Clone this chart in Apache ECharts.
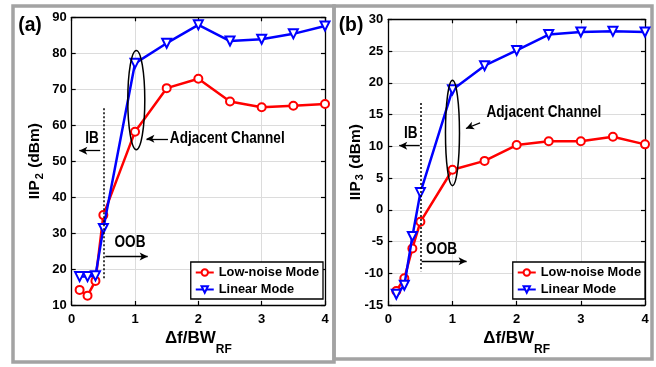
<!DOCTYPE html>
<html><head><meta charset="utf-8">
<script src="https://cdn.jsdelivr.net/npm/echarts@6/dist/echarts.min.js"></script>
<style>html,body{margin:0;padding:0;background:#fff}#c{width:656px;height:367px}</style>
</head><body><div id="c"></div>
<script>
// ---- data ----
const offsets = [0.125, 0.25, 0.375, 0.5, 1, 1.5, 2, 2.5, 3, 3.5, 4];
const iip2LowNoise = [14.2, 12.6, 16.7, 35.0, 58.2, 70.3, 72.9, 66.6, 65.0, 65.4, 65.9];
const iip2Linear   = [17.9, 17.9, 18.1, 31.3, 77.2, 82.8, 87.9, 83.4, 83.9, 85.4, 87.6];
const iip3LowNoise = [-12.8, -10.8, -6.1, -1.9, 6.3, 7.7, 10.2, 10.8, 10.8, 11.5, 10.3];
const iip3Linear   = [-13.3, -11.9, -4.2, 2.7, 18.9, 22.7, 25.1, 27.6, 28.0, 28.1, 28.0];
const xTicks = [0, 1, 2, 3, 4];
const iip2Ticks = [10, 20, 30, 40, 50, 60, 70, 80, 90];
const iip3Ticks = [-15, -10, -5, 0, 5, 10, 15, 20, 25, 30];
const seriesNames = ['Low-noise Mode', 'Linear Mode'];
const panelLabels = ['(a)', '(b)'];

// ---- styles ----
const FONT = "'Liberation Sans', Arial, sans-serif";
const RED = '#ff0000', BLUE = '#0000ff', GRIDC = '#dcdcdc';
const SQUEEZE = 0.85;

const pairs = (ys) => offsets.map((x, i) => [x, ys[i]]);
const bold = (size, extra) => Object.assign({ fontSize: size, fontWeight: 'bold', fontFamily: FONT, color: '#000' }, extra || {});

function xAxisMain(gi) {
  return {
    type: 'value', gridIndex: gi, min: xTicks[0], max: xTicks[xTicks.length - 1], interval: 1,
    axisLine: { onZero: false, lineStyle: { color: '#000', width: 1.3 } },
    axisTick: { inside: true, length: 4, lineStyle: { color: '#000', width: 1.2 } },
    axisLabel: bold(13, { margin: 8 }),
    splitLine: { show: true, lineStyle: { color: GRIDC, width: 1 } },
    name: '{a|Δf/BW}{s|RF}', nameLocation: 'middle', nameGap: 15, nameMoveOverlap: false,
    nameTextStyle: { rich: {
      a: bold(17, { lineHeight: 36, verticalAlign: 'middle' }),
      s: bold(12, { verticalAlign: 'bottom', padding: [21, 0, 0, 0] })
    } }
  };
}
function xAxisTop(gi) {
  return {
    type: 'value', gridIndex: gi, position: 'top', min: xTicks[0], max: xTicks[xTicks.length - 1], interval: 1,
    axisLine: { onZero: false, lineStyle: { color: '#000', width: 1.3 } },
    axisTick: { inside: true, length: 4, lineStyle: { color: '#000', width: 1.2 } },
    axisLabel: { show: false }, splitLine: { show: false }
  };
}
function yAxisMain(gi, ticks, sub, gap) {
  return {
    type: 'value', gridIndex: gi, min: ticks[0], max: ticks[ticks.length - 1], interval: ticks[1] - ticks[0],
    axisLine: { onZero: false, lineStyle: { color: '#000', width: 1.3 } },
    axisTick: { inside: true, length: 4, lineStyle: { color: '#000', width: 1.2 } },
    axisLabel: bold(13, { margin: 5 }),
    splitLine: { show: true, lineStyle: { color: GRIDC, width: 1 } },
    name: '{a|IIP}{s|' + sub + '}{a| (dBm)}', nameLocation: 'middle', nameGap: gap, nameRotate: 90, nameMoveOverlap: false,
    nameTextStyle: { rich: {
      a: bold(15.5, { lineHeight: 20, verticalAlign: 'middle' }),
      s: bold(11, { verticalAlign: 'bottom', padding: [8, 1, 0, 1] })
    } }
  };
}
function yAxisRight(gi, ticks) {
  return {
    type: 'value', gridIndex: gi, position: 'right', min: ticks[0], max: ticks[ticks.length - 1], interval: ticks[1] - ticks[0],
    axisLine: { onZero: false, lineStyle: { color: '#000', width: 1.3 } },
    axisTick: { inside: true, length: 4, lineStyle: { color: '#000', width: 1.2 } },
    axisLabel: { show: false }, splitLine: { show: false }
  };
}

function lowNoise(gi, ys, ml) {
  return {
    name: seriesNames[0], type: 'line', xAxisIndex: gi, yAxisIndex: gi, data: pairs(ys),
    symbol: 'emptyCircle', symbolSize: 8, color: RED,
    lineStyle: { color: RED, width: 2.5 }, itemStyle: { color: RED, borderWidth: 1.8 },
    animation: false, emphasis: { disabled: true }, z: 3,
    markLine: ml
  };
}
function linear(gi, ys) {
  return {
    name: seriesNames[1], type: 'line', xAxisIndex: gi, yAxisIndex: gi, data: pairs(ys),
    symbol: 'emptyTriangle', symbolRotate: 180, symbolSize: 9, color: BLUE,
    lineStyle: { color: BLUE, width: 2.5 }, itemStyle: { color: BLUE, borderWidth: 2.4 },
    animation: false, emphasis: { disabled: true }, z: 4
  };
}

// annotation geometry (data coordinates)
function annotLines(dotX, dotTop, dotBot, ibArrow, oobArrow, acArrow) {
  const arrowEnd = (c) => [{ coord: c[0], symbol: 'none' }, { coord: c[1], symbol: 'arrow', symbolSize: [6, 8] }];
  return {
    silent: true, animation: false, label: { show: false },
    lineStyle: { color: '#000', width: 1.3, type: 'solid' },
    emphasis: { disabled: true },
    data: [
      [{ coord: [dotX, dotTop], symbol: 'none', lineStyle: { type: [2, 2], width: 1.5, color: '#000' } },
       { coord: [dotX, dotBot], symbol: 'none' }],
      arrowEnd(ibArrow), arrowEnd(oobArrow), arrowEnd(acArrow)
    ]
  };
}
const mlA = annotLines(0.5, 64.7, 17.4, [[0.45, 52.9], [0.12, 52.9]], [[0.53, 23.5], [1.2, 23.5]], [[1.52, 56.2], [1.18, 56.2]]);
const mlB = annotLines(0.5, 16.8, -9.7, [[0.49, 10.1], [0.17, 10.1]], [[0.52, -8.1], [1.22, -8.1]], [[1.43, 13.7], [1.21, 12.8]]);

const legendBase = {
  data: seriesNames, orient: 'vertical', itemWidth: 18, itemHeight: 8, itemGap: 4,
  padding: [4, 4, 3, 4], borderColor: '#000', borderWidth: 1.3, backgroundColor: '#fff',
  textStyle: bold(12.8),
  selectedMode: false, z: 10
};

const chart = echarts.init(document.getElementById('c'), null, { renderer: 'canvas' });
chart.setOption({
  backgroundColor: '#fff',
  animation: false,
  grid: [
    { left: 71.7, top: 17.3, width: 253.3, height: 287.7 },
    { left: 388.3, top: 19.3, width: 256.7, height: 285.7 }
  ],
  xAxis: [xAxisMain(0), xAxisMain(1), xAxisTop(0), xAxisTop(1)],
  yAxis: [yAxisMain(0, iip2Ticks, '2', 26.5), yAxisMain(1, iip3Ticks, '3', 23), yAxisRight(0, iip2Ticks), yAxisRight(1, iip3Ticks)],
  legend: [
    Object.assign({ right: 333, top: 262 }, legendBase),
    Object.assign({ right: 11, top: 262 }, legendBase)
  ],
  series: [lowNoise(0, iip2LowNoise, mlA), linear(0, iip2Linear), lowNoise(1, iip3LowNoise, mlB), linear(1, iip3Linear)]
});

function px(si, x, y) { return chart.convertToPixel({ seriesIndex: si }, [x, y]); }
function txt(p, s, size, align) {
  return { type: 'text', x: p[0], y: p[1], z: 20, scaleX: SQUEEZE,
    style: { text: s, font: 'bold ' + size + 'px ' + FONT, fill: '#000', align: align || 'center', verticalAlign: 'middle' } };
}
function ellipse(si, cx, rxPx, yTop, yBot) {
  const t = px(si, cx, yTop), b = px(si, cx, yBot);
  return { type: 'ellipse', z: 20, shape: { cx: t[0], cy: (t[1] + b[1]) / 2, rx: rxPx, ry: (b[1] - t[1]) / 2 },
    style: { fill: 'none', stroke: '#000', lineWidth: 1.5 } };
}
const g = [
  { type: 'rect', z: 0, shape: { x: 13, y: 6, width: 321, height: 356 }, style: { fill: 'none', stroke: '#a3a3a3', lineWidth: 3.5 } },
  { type: 'rect', z: 0, shape: { x: 334, y: 6, width: 318, height: 353 }, style: { fill: 'none', stroke: '#a3a3a3', lineWidth: 3.5 } },
  { type: 'text', x: 30, y: 25, z: 20, scaleX: 0.92, style: { text: panelLabels[0], font: 'bold 21px ' + FONT, fill: '#000', align: 'center', verticalAlign: 'middle' } },
  { type: 'text', x: 351, y: 25, z: 20, scaleX: 0.92, style: { text: panelLabels[1], font: 'bold 21px ' + FONT, fill: '#000', align: 'center', verticalAlign: 'middle' } },
  txt(px(0, 0.32, 56.3), 'IB', 16),
  txt(px(0, 0.92, 27.3), 'OOB', 16),
  txt(px(0, 1.55, 56.3), 'Adjacent Channel', 16, 'left'),
  ellipse(0, 1.02, 8.5, 80.8, 53.2),
  txt(px(2, 0.35, 12.0), 'IB', 16),
  txt(px(2, 0.83, -6.3), 'OOB', 16),
  txt(px(2, 1.53, 15.3), 'Adjacent Channel', 16, 'left'),
  ellipse(2, 1.0, 7, 20.4, 3.8)
];
chart.setOption({ graphic: g });
</script>
</body></html>
